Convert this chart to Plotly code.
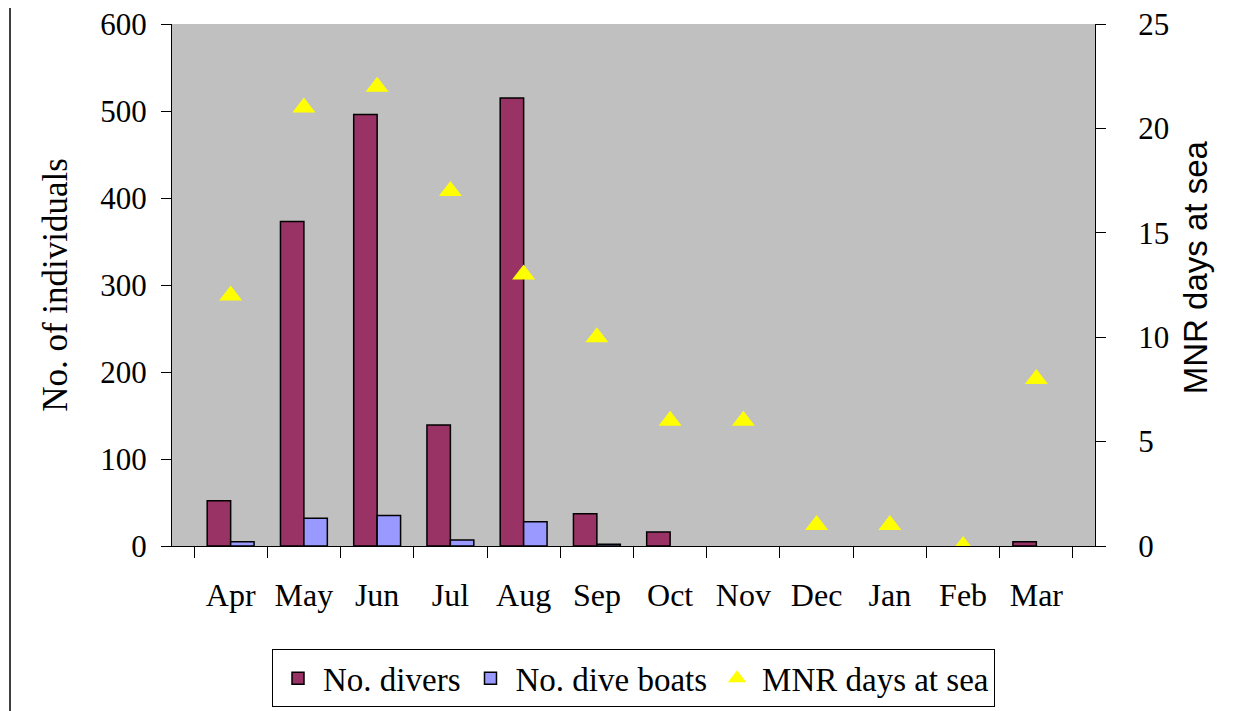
import plotly.graph_objects as go

months = ["Apr", "May", "Jun", "Jul", "Aug", "Sep", "Oct", "Nov", "Dec", "Jan", "Feb", "Mar"]
divers = [52, 373, 496, 139, 515, 37, 16, 0, 0, 0, 0, 5]
dive_boats = [5, 32, 35, 7, 28, 2, 0, 0, 0, 0, 0, 0]
mnr_days = [12, 21, 22, 17, 13, 10, 6, 6, 1, 1, 0, 8]

serif = "Liberation Serif"
plot_w, plot_h = 923, 522


def outline(values):
    # no outline for empty months, so nothing shows on the axis
    return [1.5 if v else 0 for v in values]


fig = go.Figure()
fig.add_trace(go.Bar(
    name="No. divers", x=months, y=divers,
    marker=dict(color="#993366", line=dict(color="black", width=outline(divers))),
))
fig.add_trace(go.Bar(
    name="No. dive boats", x=months, y=dive_boats,
    marker=dict(color="#9999FF", line=dict(color="black", width=outline(dive_boats))),
))
fig.add_trace(go.Scatter(
    name="MNR days at sea", x=months, y=mnr_days, yaxis="y2", mode="markers",
    marker=dict(symbol="triangle-up", size=20, color="#FFFF00"),
))

# page body has an 8px margin, so the figure is sized to fit the window
fig.update_layout(
    width=1237, height=703,
    margin=dict(l=164, r=150, t=16, b=165, autoexpand=False),
    paper_bgcolor="white", plot_bgcolor="#C0C0C0",
    font=dict(family=serif, size=32, color="black"),
    barmode="group", bargap=0.36, bargroupgap=0,
    showlegend=True,
    legend=dict(
        orientation="h", x=0.5, xanchor="center", y=-0.198, yanchor="top",
        bordercolor="black", borderwidth=1, font=dict(family=serif, size=33),
        itemwidth=40, tracegroupgap=0,
    ),
    xaxis=dict(
        showline=True, linecolor="black", linewidth=1, automargin=False,
        ticks="outside", ticklen=11, tickcolor="black", tickson="boundaries",
        ticklabelstandoff=21, showgrid=False, tickfont=dict(family=serif, size=32),
    ),
    yaxis=dict(
        range=[0, 600], dtick=100, showgrid=False, zeroline=False, automargin=False,
        showline=True, linecolor="black", linewidth=1, ticklabeloverflow="allow",
        ticks="outside", ticklen=10, tickcolor="black", ticklabelstandoff=8,
        tickfont=dict(family=serif, size=31),
        title=dict(text="No. of individuals", font=dict(family=serif, size=35), standoff=22),
    ),
    yaxis2=dict(
        range=[0, 25], dtick=5, overlaying="y", side="right", showgrid=False, zeroline=False,
        showline=True, linecolor="black", linewidth=1, automargin=False,
        ticklabeloverflow="allow",
        ticks="outside", ticklen=10, tickcolor="black", ticklabelstandoff=26,
        tickfont=dict(family=serif, size=31),
    ),
    annotations=[dict(
        text="MNR days at sea", textangle=-90, showarrow=False,
        xref="paper", yref="paper", x=1 + 100 / plot_w, y=0.534,
        xanchor="center", yanchor="middle",
        font=dict(family="Liberation Sans", size=33),
    )],
    shapes=[dict(
        type="line", xref="paper", yref="paper",
        x0=-162 / plot_w, x1=-162 / plot_w, y0=-170 / plot_h, y1=1 + 30 / plot_h,
        line=dict(color="black", width=1.5),
    )],
)

fig.write_html("out.html")
